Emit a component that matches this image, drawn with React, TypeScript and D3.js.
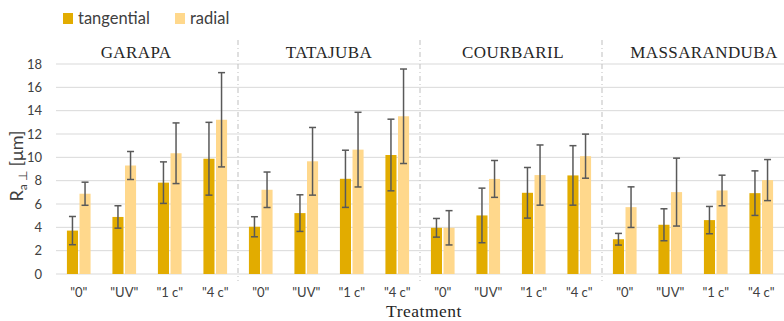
import React from "react";
import * as d3 from "d3";

// Surface roughness Ra⊥ per wood species and treatment
const species = ["GARAPA", "TATAJUBA", "COURBARIL", "MASSARANDUBA"];
const treatments = ['"0"', '"UV"', '"1 c"', '"4 c"'];
const seriesNames = ["tangential", "radial"];

// means, grouped species by species, treatments in order
const tangentialMean = [
  3.72, 4.89, 7.83, 9.88,
  4.05, 5.22, 8.16, 10.2,
  3.96, 5.02, 6.96, 8.45,
  2.98, 4.22, 4.62, 6.93,
];
const tangentialSd = [
  1.21, 0.96, 1.78, 3.12,
  0.86, 1.57, 2.45, 3.07,
  0.8, 2.34, 2.17, 2.55,
  0.5, 1.37, 1.17, 1.91,
];
const radialMean = [
  6.88, 9.3, 10.35, 13.22,
  7.22, 9.66, 10.66, 13.52,
  3.96, 8.15, 8.48, 10.1,
  5.73, 7.02, 7.16, 8.05,
];
const radialSd = [
  0.99, 1.2, 2.6, 4.04,
  1.52, 2.9, 3.2, 4.05,
  1.47, 1.58, 2.58, 1.89,
  1.74, 2.91, 1.31, 1.76,
];
const yTicks = [0, 2, 4, 6, 8, 10, 12, 14, 16, 18];

const W = 784;
const H = 321;
const left = 56;
const right = 784;
const top = 64;
const bottom = 274;

const colors: Record<string, string> = {
  tangential: "#E2AC00",
  radial: "#FFD88C",
};

const sans = "Lato, 'Open Sans', sans-serif";
const serif = "'Liberation Serif', 'Times New Roman', serif";

export default function App() {
  const cats = species.flatMap((s) => treatments.map((t) => `${s}|${t}`));
  const x = d3.scaleBand<string>().domain(cats).range([left, right]).paddingInner(0.48).paddingOuter(0.24);
  const xs = d3.scaleBand<string>().domain(seriesNames).range([0, x.bandwidth()]).paddingInner(0.12);
  const y = d3.scaleLinear().domain([0, 18]).range([bottom, top]);
  const step = x.step();
  const groupWidth = step * treatments.length;

  const rows = cats.map((c, i) => ({
    cat: c,
    treatment: treatments[i % treatments.length],
    values: [
      { s: "tangential", m: tangentialMean[i], sd: tangentialSd[i] },
      { s: "radial", m: radialMean[i], sd: radialSd[i] },
    ],
  }));

  const titleOffsets = [-11, 0, 2, 11];

  return (
    <svg width={W} height={H} style={{ position: "absolute", left: 0, top: 0, background: "#fff" }}>
      {/* legend */}
      {seriesNames.map((s, i) => {
        const lx = i === 0 ? 63 : 175;
        return (
          <g key={s}>
            <rect x={lx} y={13} width={10} height={11} fill={colors[s]} />
            <text x={lx + 15} y={23.5} fontFamily={sans} fontSize={16.5} fill="#404040">
              {s}
            </text>
          </g>
        );
      })}

      {/* gridlines */}
      {yTicks.map((t) => (
        <line key={t} x1={left} x2={right} y1={y(t)} y2={y(t)} stroke="#D9D9D9" strokeWidth={1} />
      ))}
      {yTicks.map((t) => (
        <text key={t} x={42} y={y(t)} dy="0.36em" textAnchor="end" fontFamily={sans} fontSize={13} fill="#404040">
          {t}
        </text>
      ))}

      {/* species separators */}
      {species.slice(1).map((s, i) => {
        const sx = left + groupWidth * (i + 1);
        return (
          <line key={s} x1={sx} x2={sx} y1={40} y2={281} stroke="#BFBFBF" strokeWidth={1} strokeDasharray="5,3,1,3" />
        );
      })}

      {/* species titles */}
      {species.map((s, i) => (
        <text
          key={s}
          x={left + groupWidth * i + groupWidth / 2 + titleOffsets[i]}
          y={57.5}
          textAnchor="middle"
          fontFamily={serif}
          fontSize={17}
          letterSpacing={0.4}
          fill="#262626"
        >
          {s}
        </text>
      ))}

      {/* bars */}
      {rows.map((r) =>
        r.values.map((v) => {
          const bx = (x(r.cat) ?? 0) + (xs(v.s) ?? 0);
          return (
            <rect key={r.cat + v.s} x={bx} y={y(v.m)} width={xs.bandwidth()} height={y(0) - y(v.m)} fill={colors[v.s]} />
          );
        })
      )}

      {/* error bars */}
      {rows.map((r) =>
        r.values.map((v) => {
          const cx = (x(r.cat) ?? 0) + (xs(v.s) ?? 0) + xs.bandwidth() / 2;
          const y1 = y(v.m + v.sd);
          const y2 = y(v.m - v.sd);
          return (
            <g key={r.cat + v.s + "e"} stroke="#595959" strokeWidth={1.5}>
              <line x1={cx} x2={cx} y1={y1} y2={y2} />
              <line x1={cx - 3.5} x2={cx + 3.5} y1={y1} y2={y1} />
              <line x1={cx - 3.5} x2={cx + 3.5} y1={y2} y2={y2} />
            </g>
          );
        })
      )}

      {/* category labels */}
      {rows.map((r) => (
        <text
          key={r.cat + "l"}
          x={(x(r.cat) ?? 0) + x.bandwidth() / 2}
          y={297}
          textAnchor="middle"
          fontFamily={sans}
          fontSize={13}
          fill="#404040"
        >
          {r.treatment}
        </text>
      ))}

      {/* axis titles */}
      <text x={(left + right) / 2 + 4} y={317} textAnchor="middle" fontFamily={serif} fontSize={17.5} letterSpacing={0.5} fill="#262626">
        Treatment
      </text>
      <text
        transform={`translate(23, ${(top + bottom) / 2 - 3}) rotate(-90)`}
        textAnchor="middle"
        fontFamily={sans}
        fontSize={18}
        fill="#404040"
      >
        R<tspan fontSize={12} dy={4}>a ⊥</tspan>
        <tspan dy={-4}> [μm]</tspan>
      </text>
    </svg>
  );
}
